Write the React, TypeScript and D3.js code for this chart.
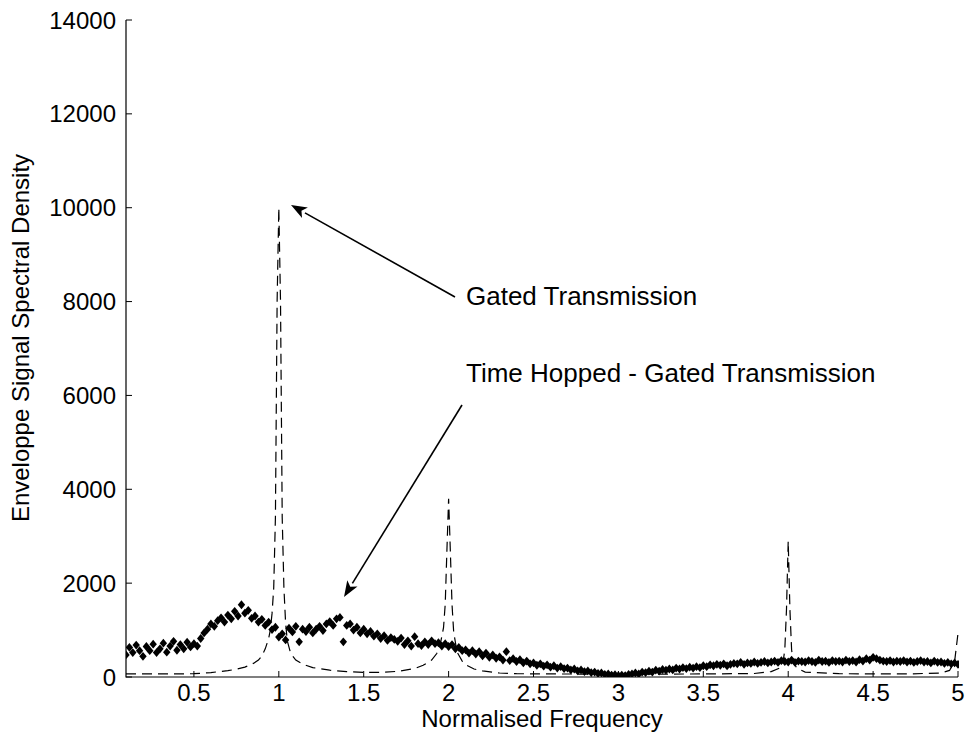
import React from "react";
import * as d3 from "d3";

// gated transmission (dashed line): frequency / density pairs
const gatedFreq = [
  0.1, 0.3, 0.5, 0.6, 0.7, 0.75, 0.8, 0.85, 0.88, 0.9, 0.92, 0.94, 0.95, 0.96, 0.97, 0.98, 0.99, 1.0,
  1.01, 1.02, 1.03, 1.04, 1.05, 1.07, 1.1, 1.15, 1.2, 1.3, 1.4, 1.5, 1.6, 1.7, 1.8, 1.85, 1.9, 1.93,
  1.95, 1.97, 1.98, 1.99, 2.0, 2.01, 2.02, 2.03, 2.05, 2.08, 2.1, 2.15, 2.2, 2.3, 2.4, 2.6, 3.0, 3.5,
  3.8, 3.9, 3.95, 3.97, 3.98, 3.99, 4.0, 4.01, 4.02, 4.03, 4.05, 4.1, 4.3, 4.7, 4.9, 4.95, 4.98, 5.0,
];
const gatedValue = [
  65, 65, 70, 95, 135, 165, 210, 290, 360, 450, 600, 820, 1000, 1350, 1900, 3400, 8000, 10000,
  8000, 3400, 1900, 1150, 770, 500, 360, 260, 200, 145, 115, 100, 100, 120, 180, 250, 360, 500,
  680, 1050, 1550, 2700, 3800, 2700, 1550, 950, 530, 340, 260, 170, 130, 85, 70, 65, 60, 65,
  75, 115, 190, 330, 580, 1450, 2900, 1450, 580, 330, 190, 105, 70, 65, 85, 140, 330, 930,
];

// time hopped - gated transmission (diamond markers), one row per 0.2 of frequency
const hoppedFreq = [
  0.1, 0.12, 0.14, 0.16, 0.18, 0.2, 0.22, 0.24, 0.26, 0.28,
  0.3, 0.32, 0.34, 0.36, 0.38, 0.4, 0.42, 0.44, 0.46, 0.48,
  0.5, 0.52, 0.54, 0.56, 0.58, 0.6, 0.62, 0.64, 0.66, 0.68,
  0.7, 0.72, 0.74, 0.76, 0.78, 0.8, 0.82, 0.84, 0.86, 0.88,
  0.9, 0.92, 0.94, 0.96, 0.98, 1.0, 1.02, 1.04, 1.06, 1.08,
  1.1, 1.12, 1.14, 1.16, 1.18, 1.2, 1.22, 1.24, 1.26, 1.28,
  1.3, 1.32, 1.34, 1.36, 1.38, 1.4, 1.42, 1.44, 1.46, 1.48,
  1.5, 1.52, 1.54, 1.56, 1.58, 1.6, 1.62, 1.64, 1.66, 1.68,
  1.7, 1.72, 1.74, 1.76, 1.78, 1.8, 1.82, 1.84, 1.86, 1.88,
  1.9, 1.92, 1.94, 1.96, 1.98, 2.0, 2.02, 2.04, 2.06, 2.08,
  2.1, 2.12, 2.14, 2.16, 2.18, 2.2, 2.22, 2.24, 2.26, 2.28,
  2.3, 2.32, 2.34, 2.36, 2.38, 2.4, 2.42, 2.44, 2.46, 2.48,
  2.5, 2.52, 2.54, 2.56, 2.58, 2.6, 2.62, 2.64, 2.66, 2.68,
  2.7, 2.72, 2.74, 2.76, 2.78, 2.8, 2.82, 2.84, 2.86, 2.88,
  2.9, 2.92, 2.94, 2.96, 2.98, 3.0, 3.02, 3.04, 3.06, 3.08,
  3.1, 3.12, 3.14, 3.16, 3.18, 3.2, 3.22, 3.24, 3.26, 3.28,
  3.3, 3.32, 3.34, 3.36, 3.38, 3.4, 3.42, 3.44, 3.46, 3.48,
  3.5, 3.52, 3.54, 3.56, 3.58, 3.6, 3.62, 3.64, 3.66, 3.68,
  3.7, 3.72, 3.74, 3.76, 3.78, 3.8, 3.82, 3.84, 3.86, 3.88,
  3.9, 3.92, 3.94, 3.96, 3.98, 4.0, 4.02, 4.04, 4.06, 4.08,
  4.1, 4.12, 4.14, 4.16, 4.18, 4.2, 4.22, 4.24, 4.26, 4.28,
  4.3, 4.32, 4.34, 4.36, 4.38, 4.4, 4.42, 4.44, 4.46, 4.48,
  4.5, 4.52, 4.54, 4.56, 4.58, 4.6, 4.62, 4.64, 4.66, 4.68,
  4.7, 4.72, 4.74, 4.76, 4.78, 4.8, 4.82, 4.84, 4.86, 4.88,
  4.9, 4.92, 4.94, 4.96, 4.98, 5.0,
];
const hoppedValue = [
  470, 630, 520, 680, 560, 440, 650, 560, 700, 520,
  600, 720, 530, 660, 760, 570, 690, 600, 740, 640,
  710, 660, 820, 940, 1020, 1130, 1080, 1200, 1260, 1170,
  1320, 1240, 1400, 1300, 1540, 1360, 1420, 1250, 1300, 1170,
  1230, 1100, 1170, 1010, 1060, 850, 920, 790, 1040, 960,
  1080, 750, 1020, 970, 1060, 940, 1020, 1080, 990, 1130,
  1180, 1100, 1240, 1270, 750, 1100, 1130, 1000, 1060, 940,
  1020, 920, 970, 870, 920, 820, 880, 780, 840, 800,
  760, 830, 690, 770, 660, 860, 710, 670, 750, 690,
  770, 710, 730, 660, 710, 650, 690, 600, 630, 560,
  580, 510, 560, 490, 540, 450, 510, 420, 470, 400,
  430, 360, 540, 350, 390, 330, 370, 300, 340, 280,
  300, 250, 280, 230, 260, 210, 240, 190, 220, 180,
  190, 150, 170, 130, 150, 115, 130, 95, 105, 75,
  85, 55, 65, 40, 50, 30, 40, 30, 55, 65,
  85, 65, 105, 95, 125, 105, 145, 125, 160, 145,
  170, 150, 190, 170, 200, 180, 210, 190, 220, 200,
  240, 220, 260, 240, 270, 250, 280, 240, 270, 290,
  280, 310, 270, 300, 290, 320, 290, 310, 330, 300,
  320, 340, 310, 350, 330, 320, 360, 310, 340, 330,
  320, 350, 330, 310, 360, 330, 340, 310, 350, 330,
  340, 320, 360, 330, 350, 320, 370, 340, 390, 360,
  420, 390, 360, 340, 330, 350, 320, 340, 330, 350,
  320, 340, 310, 330, 350, 320, 330, 300, 340, 310,
  320, 290, 310, 280, 300, 270,
];

const xTicks = [0.5, 1, 1.5, 2, 2.5, 3, 3.5, 4, 4.5, 5];
const yTicks = [0, 2000, 4000, 6000, 8000, 10000, 12000, 14000];

const FONT = "'Liberation Sans', Arial, sans-serif";

function Arrow(props: { x1: number; y1: number; x2: number; y2: number }) {
  const { x1, y1, x2, y2 } = props;
  const ang = Math.atan2(y2 - y1, x2 - x1);
  const len = 16;
  const half = 6;
  const bx = x2 - len * Math.cos(ang);
  const by = y2 - len * Math.sin(ang);
  const px = -Math.sin(ang) * half;
  const py = Math.cos(ang) * half;
  return (
    <g>
      <line x1={x1} y1={y1} x2={bx} y2={by} stroke="#000" strokeWidth={1.6} />
      <path
        d={`M${x2},${y2}L${bx + px},${by + py}L${bx + 4 * Math.cos(ang)},${by + 4 * Math.sin(ang)}L${bx - px},${by - py}Z`}
        fill="#000"
      />
    </g>
  );
}

export default function App() {
  const width = 966;
  const height = 747;
  const left = 126;
  const right = 958;
  const top = 20;
  const bottom = 677;

  const x = d3.scaleLinear().domain([0.1, 5]).range([left, right]);
  const y = d3.scaleLinear().domain([0, 14000]).range([bottom, top]);

  const gated = d3.zip(gatedFreq, gatedValue) as [number, number][];
  const linePath = d3
    .line<[number, number]>()
    .x((d) => x(d[0]))
    .y((d) => y(d[1]))(gated);

  const diamond = "M0,-4.4L3.7,0L0,4.4L-3.7,0Z";

  return (
    <svg
      width={width}
      height={height}
      style={{ position: "absolute", left: 0, top: 0, background: "#fff" }}
      fontFamily={FONT}
    >
      <defs>
        <clipPath id="plot">
          <rect x={left} y={top - 5} width={right - left + 1} height={bottom - top + 5} />
        </clipPath>
      </defs>

      <g clipPath="url(#plot)">
        <path d={linePath || ""} fill="none" stroke="#000" strokeWidth={1.2} strokeDasharray="10,6" />
        {hoppedFreq.map((f, i) => (
          <path key={i} d={diamond} transform={`translate(${x(f)},${y(hoppedValue[i])})`} fill="#000" />
        ))}
      </g>

      {/* axes */}
      <path d={`M${left},${top}V${bottom}H${right}`} fill="none" stroke="#000" strokeWidth={1.2} />
      {yTicks.map((v) => (
        <g key={v} transform={`translate(${left},${y(v)})`}>
          <line x2={6} stroke="#000" />
          <text x={-10} dy="0.36em" textAnchor="end" fontSize={24}>
            {v}
          </text>
        </g>
      ))}
      {xTicks.map((v) => (
        <g key={v} transform={`translate(${x(v)},${bottom})`}>
          <line y2={-6} stroke="#000" />
          <text y={24} textAnchor="middle" fontSize={24}>
            {v}
          </text>
        </g>
      ))}

      <text x={(left + right) / 2} y={727} textAnchor="middle" fontSize={24}>
        Normalised Frequency
      </text>
      <text transform="translate(29,338) rotate(-90)" textAnchor="middle" fontSize={24}>
        Enveloppe Signal Spectral Density
      </text>

      {/* annotations */}
      <Arrow x1={455} y1={297} x2={291} y2={205} />
      <text x={466} y={305} fontSize={26}>
        Gated Transmission
      </text>
      <Arrow x1={462} y1={405} x2={344} y2={597} />
      <text x={466} y={382} fontSize={26}>
        Time Hopped - Gated Transmission
      </text>
    </svg>
  );
}
